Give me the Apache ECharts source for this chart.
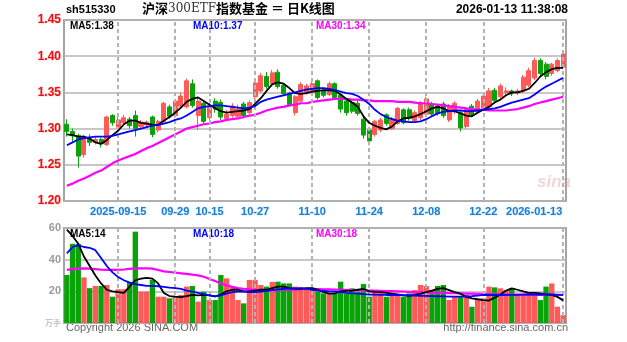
<!DOCTYPE html>
<html>
<head>
<meta charset="utf-8">
<script src="https://cdn.jsdelivr.net/npm/echarts@6/dist/echarts.min.js"></script>
<style>
html,body{margin:0;padding:0;background:#fff;}
#chart{width:627px;height:342px;}
</style>
</head>
<body>
<div id="chart"></div>
<script>
// Trading days shown on the daily K-line chart
const dates = [
  '2025-09-02','2025-09-03','2025-09-04','2025-09-05','2025-09-08','2025-09-09','2025-09-10','2025-09-11','2025-09-12',
  '2025-09-15','2025-09-16','2025-09-17','2025-09-18','2025-09-19','2025-09-22','2025-09-23','2025-09-24','2025-09-25','2025-09-26','2025-09-29','2025-09-30',
  '2025-10-09','2025-10-10','2025-10-13','2025-10-14','2025-10-15','2025-10-16','2025-10-17','2025-10-20','2025-10-21','2025-10-22','2025-10-23','2025-10-24','2025-10-27','2025-10-28','2025-10-29','2025-10-30','2025-10-31',
  '2025-11-03','2025-11-04','2025-11-05','2025-11-06','2025-11-07','2025-11-10','2025-11-11','2025-11-12','2025-11-13','2025-11-14','2025-11-17','2025-11-18','2025-11-19','2025-11-20','2025-11-21','2025-11-24','2025-11-25','2025-11-26','2025-11-27','2025-11-28',
  '2025-12-01','2025-12-02','2025-12-03','2025-12-04','2025-12-05','2025-12-08','2025-12-09','2025-12-10','2025-12-11','2025-12-12','2025-12-15','2025-12-16','2025-12-17','2025-12-18','2025-12-19','2025-12-22','2025-12-23','2025-12-24','2025-12-25','2025-12-26','2025-12-29','2025-12-30','2025-12-31',
  '2026-01-05','2026-01-06','2026-01-07','2026-01-08','2026-01-09','2026-01-12','2026-01-13'
];

const opens = [
  1.306,1.296,1.290,1.264,1.286,1.281,1.285,1.278,1.318,1.302,1.308,1.313,1.318,1.303,1.305,1.316,1.298,1.310,1.330,1.318,
  1.331,1.330,1.362,1.318,1.335,1.315,1.338,1.336,1.314,1.318,1.317,1.334,1.322,1.344,1.352,1.372,1.362,1.378,1.360,1.349,
  1.322,1.338,1.350,1.350,1.366,1.352,1.347,1.362,1.346,1.338,1.336,1.335,1.313,1.298,1.292,1.298,1.319,1.300,1.307,1.326,
  1.326,1.311,1.315,1.320,1.334,1.331,1.334,1.312,1.323,1.322,1.303,1.331,1.323,1.328,1.330,1.353,1.344,1.350,1.352,1.349,
  1.352,1.360,1.370,1.394,1.389,1.376,1.380,1.385
];
const closes = [
  1.296,1.290,1.262,1.288,1.281,1.285,1.279,1.316,1.308,1.312,1.315,1.304,1.300,1.309,1.309,1.292,1.310,1.335,1.317,1.338,
  1.345,1.366,1.332,1.338,1.310,1.331,1.327,1.316,1.320,1.331,1.327,1.318,1.336,1.363,1.373,1.358,1.377,1.358,1.348,1.333,
  1.344,1.361,1.359,1.362,1.343,1.346,1.362,1.343,1.327,1.322,1.324,1.321,1.291,1.283,1.310,1.312,1.307,1.314,1.328,1.308,
  1.314,1.322,1.335,1.341,1.320,1.321,1.318,1.331,1.335,1.301,1.328,1.319,1.338,1.345,1.352,1.339,1.359,1.352,1.348,1.352,
  1.371,1.380,1.394,1.376,1.372,1.389,1.394,1.403
];
const highs = [
  1.313,1.300,1.293,1.291,1.292,1.289,1.287,1.318,1.320,1.316,1.319,1.316,1.325,1.312,1.311,1.318,1.312,1.337,1.333,1.341,
  1.350,1.369,1.368,1.344,1.337,1.336,1.342,1.340,1.326,1.335,1.333,1.337,1.339,1.365,1.377,1.378,1.381,1.382,1.363,1.351,
  1.346,1.364,1.362,1.365,1.368,1.356,1.365,1.364,1.349,1.341,1.339,1.339,1.316,1.300,1.312,1.315,1.321,1.316,1.330,1.328,
  1.329,1.325,1.338,1.344,1.337,1.334,1.337,1.334,1.338,1.324,1.330,1.334,1.341,1.347,1.356,1.356,1.362,1.357,1.354,1.355,
  1.374,1.384,1.398,1.397,1.392,1.391,1.397,1.406
];
const lows = [
  1.289,1.282,1.246,1.260,1.276,1.278,1.274,1.276,1.304,1.299,1.305,1.300,1.289,1.300,1.302,1.288,1.295,1.307,1.314,1.315,
  1.328,1.328,1.329,1.298,1.307,1.312,1.322,1.312,1.312,1.315,1.314,1.314,1.320,1.341,1.350,1.355,1.360,1.355,1.345,1.330,
  1.318,1.335,1.347,1.347,1.340,1.343,1.345,1.340,1.322,1.318,1.321,1.318,1.286,1.277,1.289,1.295,1.304,1.298,1.305,1.306,
  1.311,1.309,1.312,1.318,1.317,1.318,1.315,1.309,1.320,1.296,1.300,1.316,1.320,1.325,1.327,1.336,1.341,1.347,1.345,1.346,
  1.349,1.357,1.367,1.372,1.368,1.373,1.378,1.382
];

// Price moving averages
const ma5 = [
  1.292,1.291,1.289,1.289,1.286,1.281,1.279,1.284,1.291,1.297,1.306,1.311,1.311,1.308,1.307,1.305,1.305,1.311,1.316,1.322,
  1.329,1.337,1.341,1.343,1.338,1.333,1.328,1.324,1.322,1.323,1.324,1.325,1.327,1.334,1.342,1.352,1.361,1.364,1.362,1.356,
  1.349,1.348,1.349,1.351,1.352,1.353,1.353,1.352,1.347,1.341,1.336,1.330,1.317,1.308,1.304,1.301,1.299,1.303,1.310,1.314,
  1.315,1.317,1.320,1.324,1.328,1.330,1.328,1.324,1.324,1.321,1.318,1.317,1.322,1.326,1.330,1.336,1.340,1.346,1.350,1.350,
  1.352,1.355,1.363,1.372,1.378,1.382,1.384,1.384
];
const ma10 = [
  1.277,1.281,1.285,1.287,1.288,1.289,1.289,1.289,1.290,1.292,1.294,1.296,1.298,1.300,1.302,1.304,1.305,1.307,1.309,1.312,
  1.314,1.318,1.323,1.328,1.330,1.331,1.332,1.332,1.331,1.330,1.329,1.328,1.329,1.331,1.337,1.340,1.342,1.344,1.346,1.348,
  1.350,1.352,1.354,1.355,1.356,1.356,1.355,1.353,1.351,1.349,1.348,1.345,1.340,1.334,1.326,1.320,1.316,1.313,1.311,1.310,
  1.309,1.309,1.310,1.313,1.317,1.321,1.323,1.324,1.325,1.325,1.324,1.324,1.325,1.326,1.327,1.328,1.330,1.333,1.336,1.338,
  1.340,1.342,1.347,1.353,1.358,1.362,1.366,1.370
];
const ma30 = [
  1.221,1.224,1.228,1.231,1.235,1.239,1.242,1.247,1.252,1.256,1.259,1.262,1.265,1.269,1.273,1.276,1.280,1.284,1.288,1.292,
  1.296,1.300,1.302,1.304,1.306,1.307,1.309,1.310,1.312,1.313,1.314,1.316,1.318,1.319,1.322,1.325,1.327,1.329,1.330,1.332,
  1.333,1.335,1.335,1.337,1.338,1.339,1.340,1.341,1.341,1.341,1.340,1.340,1.339,1.339,1.338,1.338,1.338,1.338,1.337,1.337,
  1.337,1.336,1.335,1.335,1.334,1.333,1.332,1.331,1.330,1.329,1.328,1.327,1.326,1.326,1.325,1.325,1.325,1.325,1.326,1.327,
  1.329,1.331,1.334,1.336,1.338,1.340,1.342,1.344
];

// Daily volume
const volumes = [
  30.3,50.0,50.0,28.8,22.0,23.4,23.4,24.0,16.6,21.3,21.3,26.0,57.7,19.8,19.8,27.2,16.6,16.6,15.6,16.6,
  17.7,23.0,23.4,13.5,19.8,14.5,14.5,30.3,28.2,23.0,14.5,12.4,27.2,27.2,24.0,23.0,26.0,26.1,25.0,25.0,
  23.0,22.5,22.0,21.0,19.8,18.7,18.7,18.7,26.1,18.7,21.9,19.8,24.6,16.6,20.8,20.8,16.6,17.7,17.7,16.6,
  18.7,20.8,24.0,23.4,20.8,23.4,24.0,14.5,16.6,16.6,17.7,10.3,14.5,15.6,23.0,22.5,21.9,20.8,21.9,17.7,
  17.7,18.7,17.7,14.5,23.0,25.0,10.3,5.0
];
const vma5 = [
  59,55,50,42,36,30,25,21,20,19.5,19,23,27,28,28.5,28,25,19,17,16.6,
  16.3,17,17.7,17.5,17.7,17.5,16.8,18,20,21,21,20,20,20.5,21,21,22,23,23,22,
  21.5,21.5,22,22,21,19.5,18.5,18.7,20,20.3,20.5,21,21.5,20,19.7,19.5,19,18.5,18,17.5,
  17.2,17.7,18.5,19.5,20.5,21.5,22,20.8,19.5,18.5,16.5,15.5,15,14.5,14.2,16,18,20.5,21.9,21,
  20,19,19,18.7,18,17.7,16.5,14.3
];
const vma10 = [
  44,48,49,48,47.5,46,41,36,32,29,27,25.5,24.5,24,23.5,23.4,23.2,22.8,22.3,22,
  21.5,20.5,19.8,19,18.3,17.5,16.8,17.5,18.5,19.5,19.8,19.8,19.5,19.5,19.8,20.3,20.8,21.2,21.5,21.8,
  21.9,22,21.5,21,20.5,20.3,20,19.8,19.5,19,18.7,18.5,18.2,18,17.9,17.8,17.7,17.7,17.7,17.6,
  17.5,17.3,17.2,17.1,17,16.9,16.8,16.7,16.6,16.6,16.8,17,17.3,17.7,17.7,17.7,17.7,17.7,17.8,17.8,
  17.9,18,18,18,18,18,17.9,17.8
];
const vma30 = [
  33.5,34,34.3,34.5,34.3,34,33.7,33.5,33.5,33.6,33.8,34.2,34.5,34.5,34.5,34.3,33.5,32.6,32.2,31.8,
  31.4,31,30.5,30.1,29.2,27.8,26.5,25,23.8,22.8,22,21.5,21.2,21,20.9,20.8,20.8,20.9,21,21.1,
  21.2,21.3,21.5,21.5,21.4,21.3,21.2,21.1,21,20.9,20.8,20.7,20.6,20.5,20.4,20.3,20.2,20.1,20,19.9,
  19.7,19.5,19.4,19.3,19.2,19.1,19,18.9,18.8,18.7,18.6,18.5,18.4,18.3,18.2,18.1,18.1,18,18,18,
  17.9,17.9,17.8,17.8,17.8,17.7,17.7,17.7
];

// Dates that carry an axis label and a vertical guide line
const tickDates = ['2025-09-15','2025-09-29','2025-10-15','2025-10-27','2025-11-10','2025-11-24','2025-12-08','2025-12-22','2026-01-13'];

const UP = '#ff5a5a';
const DOWN = '#09a309';
const GRID_LINE = '#b4b4b4';

const candles = dates.map((d, i) => [opens[i], closes[i], lows[i], highs[i]]);
const volData = volumes.map((v, i) => ({
  value: v,
  itemStyle: { color: closes[i] >= opens[i] ? UP : DOWN }
}));

const guideLines = tickDates.map(d => ({ xAxis: d }));
const guideMark = {
  silent: true,
  symbol: ['none', 'none'],
  label: { show: false },
  lineStyle: { color: GRID_LINE, type: [4, 3], width: 2 },
  data: guideLines,
  animation: false
};

const last = a => a[a.length - 1];
const FONT = 'Liberation Sans';

const chart = echarts.init(document.getElementById('chart'), null, { renderer: 'canvas' });
chart.setOption({
  animation: false,
  backgroundColor: '#fff',
  grid: [
    { left: 64, top: 20, width: 502, height: 181, show: true, borderColor: '#a4a4a4', borderWidth: 2, backgroundColor: '#fff' },
    { left: 64, top: 228, width: 502, height: 95, show: true, borderColor: '#a4a4a4', borderWidth: 2, backgroundColor: '#fff' }
  ],
  xAxis: [
    {
      type: 'category', gridIndex: 0, data: dates, boundaryGap: true,
      axisLine: { show: false }, axisTick: { show: false }, splitLine: { show: false },
      axisLabel: {
        show: true,
        interval: (idx, val) => tickDates.indexOf(val) >= 0,
        hideOverlap: false,
        margin: 5,
        color: '#1a7fd0',
        fontFamily: FONT, fontWeight: 'bold', fontSize: 11,
        textBorderColor: '#d8ecff', textBorderWidth: 1,
        formatter: (val) => {
          const k = tickDates.indexOf(val);
          if (k === 0) return val;
          if (k === tickDates.length - 1) return '{r|' + val + '}';
          return val.slice(5);
        },
        rich: {
          r: { color: '#1a7fd0', fontFamily: FONT, fontWeight: 'bold', fontSize: 11, padding: [0, 58, 0, 0], textBorderColor: '#d8ecff', textBorderWidth: 1 }
        }
      }
    },
    {
      type: 'category', gridIndex: 1, data: dates, boundaryGap: true,
      axisLine: { show: false }, axisTick: { show: false }, splitLine: { show: false },
      axisLabel: { show: false }
    }
  ],
  yAxis: [
    {
      type: 'value', gridIndex: 0, min: 1.20, max: 1.45, interval: 0.05,
      axisLine: { show: false }, axisTick: { show: false },
      axisLabel: {
        color: '#ee1111', fontFamily: FONT, fontWeight: 'bold', fontSize: 12, margin: 3,
        textBorderColor: '#ffd0d0', textBorderWidth: 1,
        formatter: v => v.toFixed(2)
      },
      splitLine: { show: true, lineStyle: { color: GRID_LINE, width: 1.5 } }
    },
    {
      type: 'value', gridIndex: 1, min: 0, max: 60, interval: 20,
      axisLine: { show: false }, axisTick: { show: false },
      axisLabel: {
        color: '#9a9a9a', fontFamily: FONT, fontWeight: 'bold', fontSize: 11, margin: 3,
        formatter: v => v === 0 ? '{u|万手}' : String(v),
        rich: { u: { fontSize: 8, color: '#c4c4c4', fontFamily: 'Noto Sans CJK SC' } }
      },
      splitLine: { show: true, lineStyle: { color: GRID_LINE, width: 1.5 } }
    }
  ],
  series: [
    {
      name: 'K', type: 'candlestick', xAxisIndex: 0, yAxisIndex: 0, data: candles,
      barWidth: '80%',
      itemStyle: { color: UP, color0: DOWN, borderColor: UP, borderColor0: DOWN, borderWidth: 1 },
      markLine: guideMark, z: 3
    },
    { name: 'MA5', type: 'line', xAxisIndex: 0, yAxisIndex: 0, data: ma5, symbol: 'none', lineStyle: { color: '#000', width: 1.8 }, z: 5 },
    { name: 'MA10', type: 'line', xAxisIndex: 0, yAxisIndex: 0, data: ma10, symbol: 'none', lineStyle: { color: '#0000ff', width: 1.8 }, z: 5 },
    { name: 'MA30', type: 'line', xAxisIndex: 0, yAxisIndex: 0, data: ma30, symbol: 'none', lineStyle: { color: '#ff00ff', width: 2.2 }, z: 4 },
    {
      name: 'VOL', type: 'bar', xAxisIndex: 1, yAxisIndex: 1, data: volData,
      barCategoryGap: '6%', markLine: guideMark, z: 3
    },
    { name: 'VMA5', type: 'line', xAxisIndex: 1, yAxisIndex: 1, data: vma5, symbol: 'none', lineStyle: { color: '#000', width: 1.8 }, z: 5 },
    { name: 'VMA10', type: 'line', xAxisIndex: 1, yAxisIndex: 1, data: vma10, symbol: 'none', lineStyle: { color: '#0000ff', width: 1.8 }, z: 5 },
    { name: 'VMA30', type: 'line', xAxisIndex: 1, yAxisIndex: 1, data: vma30, symbol: 'none', lineStyle: { color: '#ff00ff', width: 2.2 }, z: 4 }
  ],
  graphic: [
    { type: 'text', left: 66, top: 4, style: { text: 'sh515330', fill: '#000', font: 'bold 11px ' + FONT } },
    {
      type: 'text', left: 142, top: 2,
      style: {
        text: '{b|沪深}{n|300ETF}{b|指数基金 ＝ 日K线图}',
        rich: {
          b: { fill: '#000', font: 'bold 13px "Noto Sans CJK SC"' },
          n: { fill: '#333', font: '12px "DejaVu Serif"' }
        }
      }
    },
    { type: 'text', right: 59, top: 4, style: { text: '2026-01-13 11:38:08', fill: '#000', font: 'bold 12px ' + FONT } },

    { type: 'text', left: 70, top: 21, style: { text: 'MA5:' + last(ma5).toFixed(2), fill: '#000', font: 'bold 10px ' + FONT } },
    { type: 'text', left: 193, top: 21, style: { text: 'MA10:' + last(ma10).toFixed(2), fill: '#0000ff', font: 'bold 10px ' + FONT } },
    { type: 'text', left: 316, top: 21, style: { text: 'MA30:' + last(ma30).toFixed(2), fill: '#ff00ff', font: 'bold 10px ' + FONT } },

    { type: 'text', left: 70, top: 229, style: { text: 'MA5:' + last(vma5).toFixed(0), fill: '#000', font: 'bold 10px ' + FONT } },
    { type: 'text', left: 193, top: 229, style: { text: 'MA10:' + last(vma10).toFixed(0), fill: '#0000ff', font: 'bold 10px ' + FONT } },
    { type: 'text', left: 316, top: 229, style: { text: 'MA30:' + last(vma30).toFixed(0), fill: '#ff00ff', font: 'bold 10px ' + FONT } },

    { type: 'text', left: 537, top: 174, z: 1, style: { text: 'sina', fill: 'rgba(200,110,110,0.28)', font: 'italic bold 17px ' + FONT } },

    { type: 'text', left: 66, top: 322, style: { text: 'Copyright 2026 SINA.COM', fill: '#666', font: '11px ' + FONT } },
    { type: 'text', right: 59, top: 322, style: { text: 'http://finance.sina.com.cn', fill: '#666', font: '11px ' + FONT } }
  ]
});
</script>
</body>
</html>
